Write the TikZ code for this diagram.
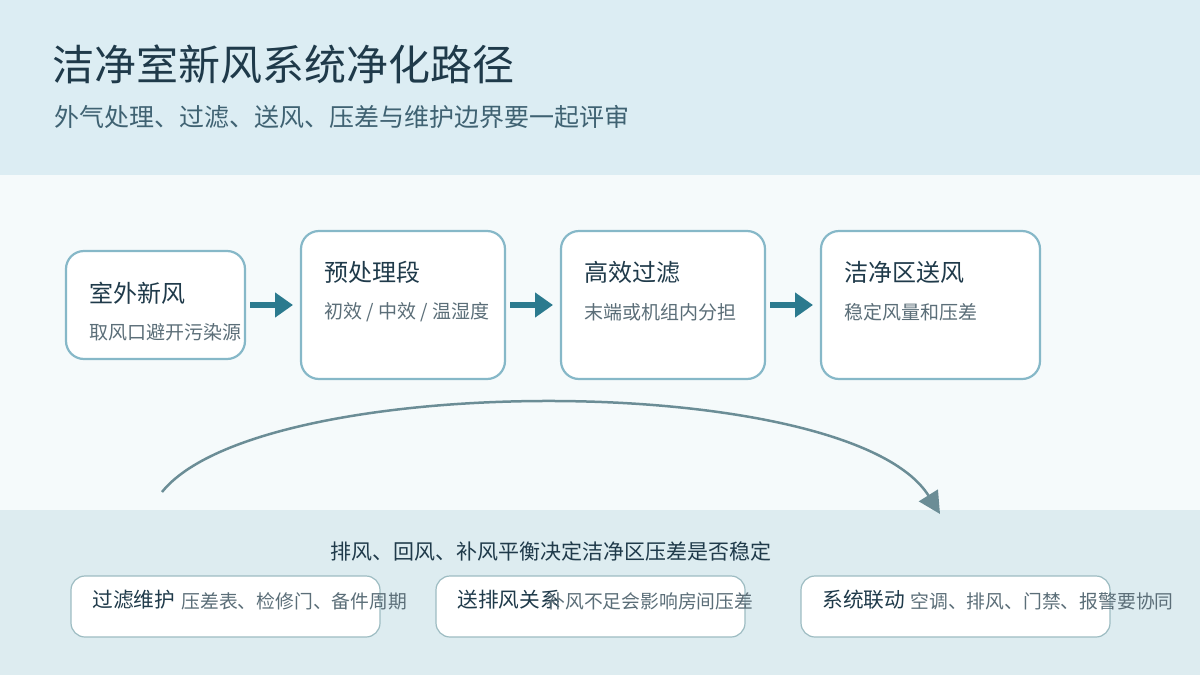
\documentclass[tikz,border=0pt]{standalone}
\usepackage{fontspec}
\setmainfont{Noto Sans CJK SC}
\usetikzlibrary{arrows.meta}
\definecolor{bandtop}{HTML}{DCEDF3}
\definecolor{bandmid}{HTML}{F5FAFB}
\definecolor{bandbot}{HTML}{DDECF0}
\definecolor{boxline}{HTML}{86B8C8}
\definecolor{noteline}{HTML}{9DBCC2}
\definecolor{flowcol}{HTML}{2B7A8E}
\definecolor{loopcol}{HTML}{6B8D96}
\definecolor{inkdark}{HTML}{1F3A4A}
\definecolor{inksub}{HTML}{3F6272}
\definecolor{inkgrey}{HTML}{5B6E78}
\tikzstyle{stage} = [draw=boxline,line width=2.2pt,fill=white,rounded corners=18pt]
\tikzstyle{note} = [draw=noteline,line width=1.2pt,fill=white,rounded corners=14pt]
\tikzstyle{head} = [anchor=west,text=inkdark,font=\fontsize{24}{28}\selectfont]
\tikzstyle{detail} = [anchor=west,text=inkgrey,font=\fontsize{19}{22}\selectfont]
\tikzstyle{notehead} = [anchor=west,text=inkdark,font=\fontsize{20.7}{24}\selectfont]
\tikzstyle{notedetail} = [anchor=west,text=inkgrey,font=\fontsize{18.8}{22}\selectfont]
\tikzstyle{flow} = [draw=flowcol,line width=6pt,-{Triangle[length=18pt,width=24pt]}]
\begin{document}
\begin{tikzpicture}[x=1pt,y=-1pt]
	\useasboundingbox (0,0) rectangle (1200,675);
	% bands
	\fill[bandtop] (0,0) rectangle (1200,175);
	\fill[bandmid] (0,175) rectangle (1200,510);
	\fill[bandbot] (0,510) rectangle (1200,675);
	\node (title) [anchor=west,text=inkdark,font=\fontsize{42}{46}\selectfont] at (49,64) {洁净室新风系统净化路径};
	\node (subtitle) [anchor=west,text=inksub,font=\fontsize{25}{29}\selectfont] at (51,117) {外气处理、过滤、送风、压差与维护边界要一起评审};
	% stages
	\draw[stage] (66,251) rectangle (245,359);
	\draw[stage] (301,231) rectangle (505,379);
	\draw[stage] (561,231) rectangle (765,379);
	\draw[stage] (821,231) rectangle (1040,379);
	\node (s1) [head] at (86,293) {室外新风};
	\node (s1d) [detail] at (86,332) {取风口避开污染源};
	\node (s2) [head] at (321,272) {预处理段};
	\node (s2d) [detail] at (321,312) {初效 / 中效 / 温湿度};
	\node (s3) [head] at (581,272) {高效过滤};
	\node (s3d) [detail] at (581,312) {末端或机组内分担};
	\node (s4) [head] at (841,272) {洁净区送风};
	\node (s4d) [detail] at (841,312) {稳定风量和压差};
	\coordinate (a1) at (250,305); \coordinate (b1) at (293,305);
	\coordinate (a2) at (510,305); \coordinate (b2) at (553,305);
	\coordinate (a3) at (770,305); \coordinate (b3) at (813,305);
	\draw[flow] (a1) -- (b1);
	\draw[flow] (a2) -- (b2);
	\draw[flow] (a3) -- (b3);
	% loop
	\coordinate (l1) at (162,492);
	\coordinate (l2) at (940,514);
	\draw[loopcol,line width=2.5pt,-{Triangle[length=22pt,width=22pt]}] (l1) .. controls (260,370) and (850,370) .. (l2);
	\node (caption) [text=inkdark,font=\fontsize{21}{25}\selectfont] at (551,551) {排风、回风、补风平衡决定洁净区压差是否稳定};
	% notes
	\draw[note] (71,576) rectangle (380,637);
	\draw[note] (436,576) rectangle (745,637);
	\draw[note] (801,576) rectangle (1110,637);
	\node (n1) [notehead] at (89,600) {过滤维护};
	\node (n1d) [notedetail] at (178,601) {压差表、检修门、备件周期};
	\node (n2) [notehead] at (454,600) {送排风关系};
	\node (n2d) [notedetail] at (543,601) {补风不足会影响房间压差};
	\node (n3) [notehead] at (819,600) {系统联动};
	\node (n3d) [notedetail] at (907,601) {空调、排风、门禁、报警要协同};
\end{tikzpicture}
\end{document}
